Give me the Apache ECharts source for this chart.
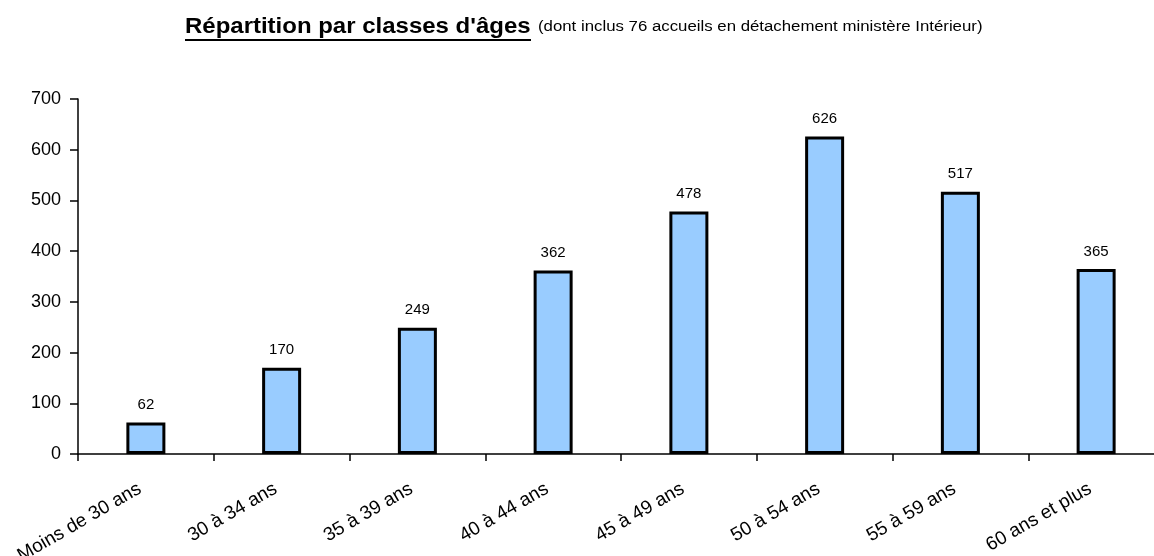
<!DOCTYPE html>
<html>
<head>
<meta charset="utf-8">
<script src="https://cdn.jsdelivr.net/npm/echarts@6/dist/echarts.min.js"></script>
<style>
html, body { margin: 0; padding: 0; background: #fff; }
#chart { width: 1154px; height: 556px; }
</style>
</head>
<body>
<div id="chart"></div>
<script>
const categories = ['Moins de 30 ans', '30 à 34 ans', '35 à 39 ans', '40 à 44 ans', '45 à 49 ans', '50 à 54 ans', '55 à 59 ans', '60 ans et plus']
const effectifs = [62, 170, 249, 362, 478, 626, 517, 365]
const yTicks = [0, 100, 200, 300, 400, 500, 600, 700]

const font = '"Liberation Sans", Arial, sans-serif'
const chart = echarts.init(document.getElementById('chart'))

chart.setOption({
    animation: false,
    textStyle: { fontFamily: font },
    graphic: [{
        type: 'text',
        x: 185,
        y: 16,
        scaleX: 1.09,
        style: {
            text: "Répartition par classes d'âges",
            font: 'bold 22px ' + font,
            fill: '#000',
            verticalAlign: 'top'
        }
    }, {
        type: 'line',
        shape: { x1: 185, y1: 40, x2: 531, y2: 40 },
        style: { stroke: '#000', lineWidth: 2 }
    }, {
        type: 'text',
        x: 538,
        y: 20,
        scaleX: 1.2,
        style: {
            text: '(dont inclus 76 accueils en détachement ministère Intérieur)',
            font: '14px ' + font,
            fill: '#000',
            verticalAlign: 'top'
        }
    }],
    grid: {
        left: 78,
        right: -10,
        top: 99,
        bottom: 102,
        containLabel: false,
        outerBoundsMode: 'none'
    },
    xAxis: {
        type: 'category',
        data: categories,
        axisLine: { lineStyle: { color: '#000', width: 1.5 } },
        axisTick: { show: true, alignWithLabel: false, length: 7, lineStyle: { color: '#000', width: 1.5 } },
        axisLabel: {
            interval: 0,
            rotate: 30,
            margin: 30,
            padding: [0, 7, 0, 0],
            fontSize: 19,
            color: '#000',
            fontFamily: font
        }
    },
    yAxis: {
        type: 'value',
        min: yTicks[0],
        max: yTicks[yTicks.length - 1],
        interval: 100,
        splitLine: { show: false },
        axisLine: { show: true, lineStyle: { color: '#000', width: 1.5 } },
        axisTick: { show: true, length: 8, lineStyle: { color: '#000', width: 1.5 } },
        axisLabel: {
            margin: 17,
            fontSize: 18,
            color: '#000',
            fontFamily: font
        }
    },
    series: [{
        type: 'bar',
        data: effectifs,
        barWidth: 39,
        itemStyle: {
            color: '#99ccff',
            borderColor: '#000',
            borderWidth: 3
        },
        label: {
            show: true,
            position: 'top',
            distance: 10,
            fontSize: 15,
            color: '#000',
            fontFamily: font
        }
    }]
})
</script>
</body>
</html>
